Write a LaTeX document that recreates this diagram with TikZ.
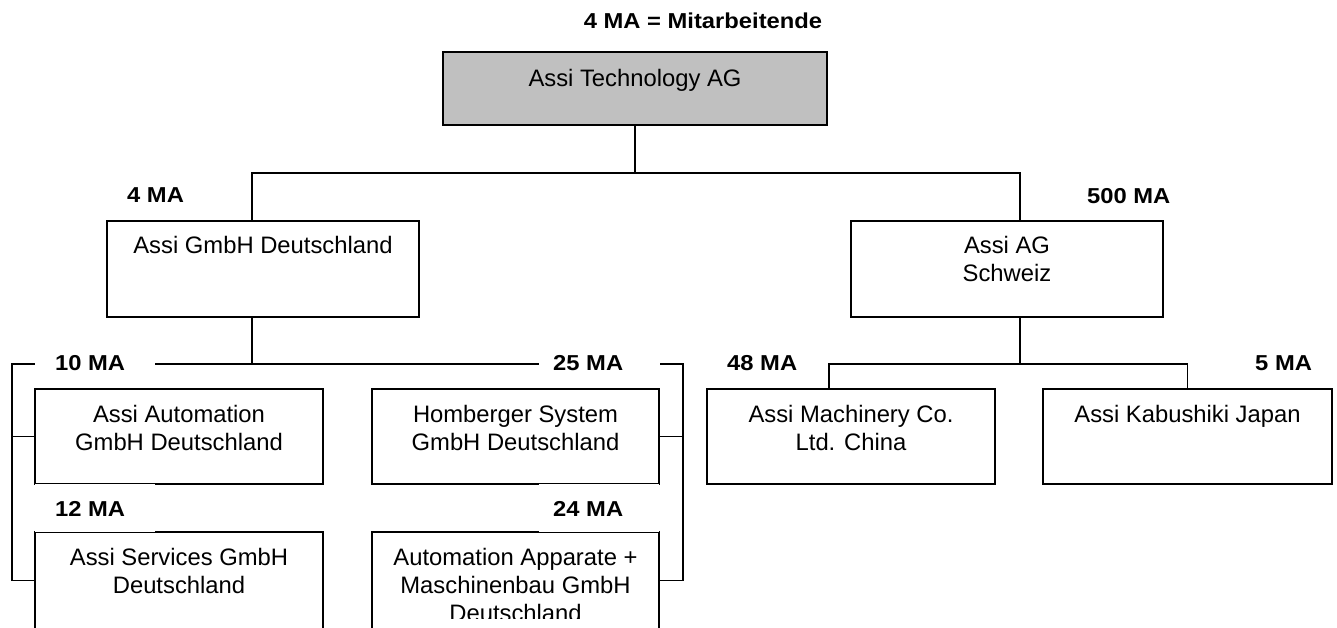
\documentclass[tikz,border=0pt]{standalone}
\usepackage{fontspec}
\setmainfont{Liberation Sans}
\newfontfamily\lblfont{Liberation Sans}[FakeStretch=1.1]
\definecolor{boxgray}{HTML}{C0C0C0}
\begin{document}
\begin{tikzpicture}[x=1pt,y=-1pt,
  box/.style={draw=black, line width=1.3pt, rectangle, inner sep=0pt, outer sep=0pt},
  btext/.style={font=\fontsize{23.8}{28}\selectfont, align=center, anchor=north, inner sep=0pt},
  lbl/.style={font=\lblfont\bfseries\fontsize{21.6}{26}\selectfont, anchor=base west, inner sep=0pt},
  conn/.style={draw=black, line width=1.3pt}]
\useasboundingbox (0,0) rectangle (1337,628);
\fill[white] (0,0) rectangle (1337,628);

% boxes
\node[box, fill=boxgray, minimum width=384pt, minimum height=73pt] (top) at (635,88.5) {};
\node[box, minimum width=312pt, minimum height=96pt] (gmbh) at (263,269) {};
\node[box, minimum width=312pt, minimum height=96pt] (ag) at (1007,269) {};
\node[box, minimum width=288pt, minimum height=95pt] (auto) at (179,436.5) {};
\node[box, minimum width=287pt, minimum height=95pt] (homb) at (515.5,436.5) {};
\node[box, minimum width=288pt, minimum height=96.5pt] (serv) at (179,580.25) {};
\node[box, minimum width=287pt, minimum height=96.5pt] (appar) at (515.5,580.25) {};
\node[box, minimum width=288pt, minimum height=95pt] (china) at (851,436.5) {};
\node[box, minimum width=289pt, minimum height=95pt] (japan) at (1187.5,436.5) {};

% connectors
\coordinate (j1) at (635,173);
\draw[conn] (top.south) -- (j1);
\draw[conn] ([xshift=-11pt]gmbh.north) |- (j1) -| ([xshift=13pt]ag.north);

\coordinate (j2) at (252,364);
\coordinate (bl) at (12,364);
\coordinate (br) at (683,364);
\draw[conn] ([xshift=-11pt]gmbh.south) -- (j2);
\draw[conn] (serv.west) -| (bl) -- (br) |- (appar.east);
\draw[conn] (bl |- auto.west) -- (auto.west);
\draw[conn] (br |- homb.east) -- (homb.east);

\coordinate (j3) at (1020,364);
\draw[conn] ([xshift=13pt]ag.south) -- (j3);
\draw[conn] ([xshift=-22pt]china.north) |- (j3) -| (japan.north);

% white label backgrounds
\fill[white] (35,341) rectangle (155,387);
\fill[white] (539,341) rectangle (660,387);
\fill[white] (35,484) rectangle (155,532);
\fill[white] (539,484) rectangle (659,532);

% labels
\node[lbl, anchor=base] (title) at (703,29) {4 MA = Mitarbeitende};
\node[lbl] (l4) at (127,203) {4 MA};
\node[lbl] (l500) at (1087,204) {500 MA};
\node[lbl] (l10) at (55,370) {10 MA};
\node[lbl] (l25) at (553,370) {25 MA};
\node[lbl] (l12) at (55,516) {12 MA};
\node[lbl] (l24) at (553,516) {24 MA};
\node[lbl] (l48) at (727,370) {48 MA};
\node[lbl] (l5) at (1255,370) {5 MA};

% box texts
\node[btext] (ttop) at ([yshift=-17pt]top.north) {Assi Technology AG};
\node[btext] (tgmbh) at ([yshift=-15pt]gmbh.north) {Assi GmbH Deutschland};
\node[btext] (tag) at ([yshift=-15pt]ag.north) {Assi AG\\Schweiz};
\node[btext] (tauto) at ([yshift=-16pt]auto.north) {Assi Automation\\GmbH Deutschland};
\node[btext] (thomb) at ([yshift=-16pt]homb.north) {Homberger System\\GmbH Deutschland};
\node[btext] (tserv) at ([yshift=-16pt]serv.north) {Assi Services GmbH\\Deutschland};
\begin{scope}
\clip (373,533) rectangle (658,618);
\node[btext] (tappar) at ([yshift=-16pt]appar.north) {Automation Apparate +\\Maschinenbau GmbH\\Deutschland};
\end{scope}
\node[btext] (tchina) at ([yshift=-16pt]china.north) {Assi Machinery Co.\\Ltd. China};
\node[btext] (tjapan) at ([yshift=-16pt]japan.north) {Assi Kabushiki Japan};
\end{tikzpicture}
\end{document}
